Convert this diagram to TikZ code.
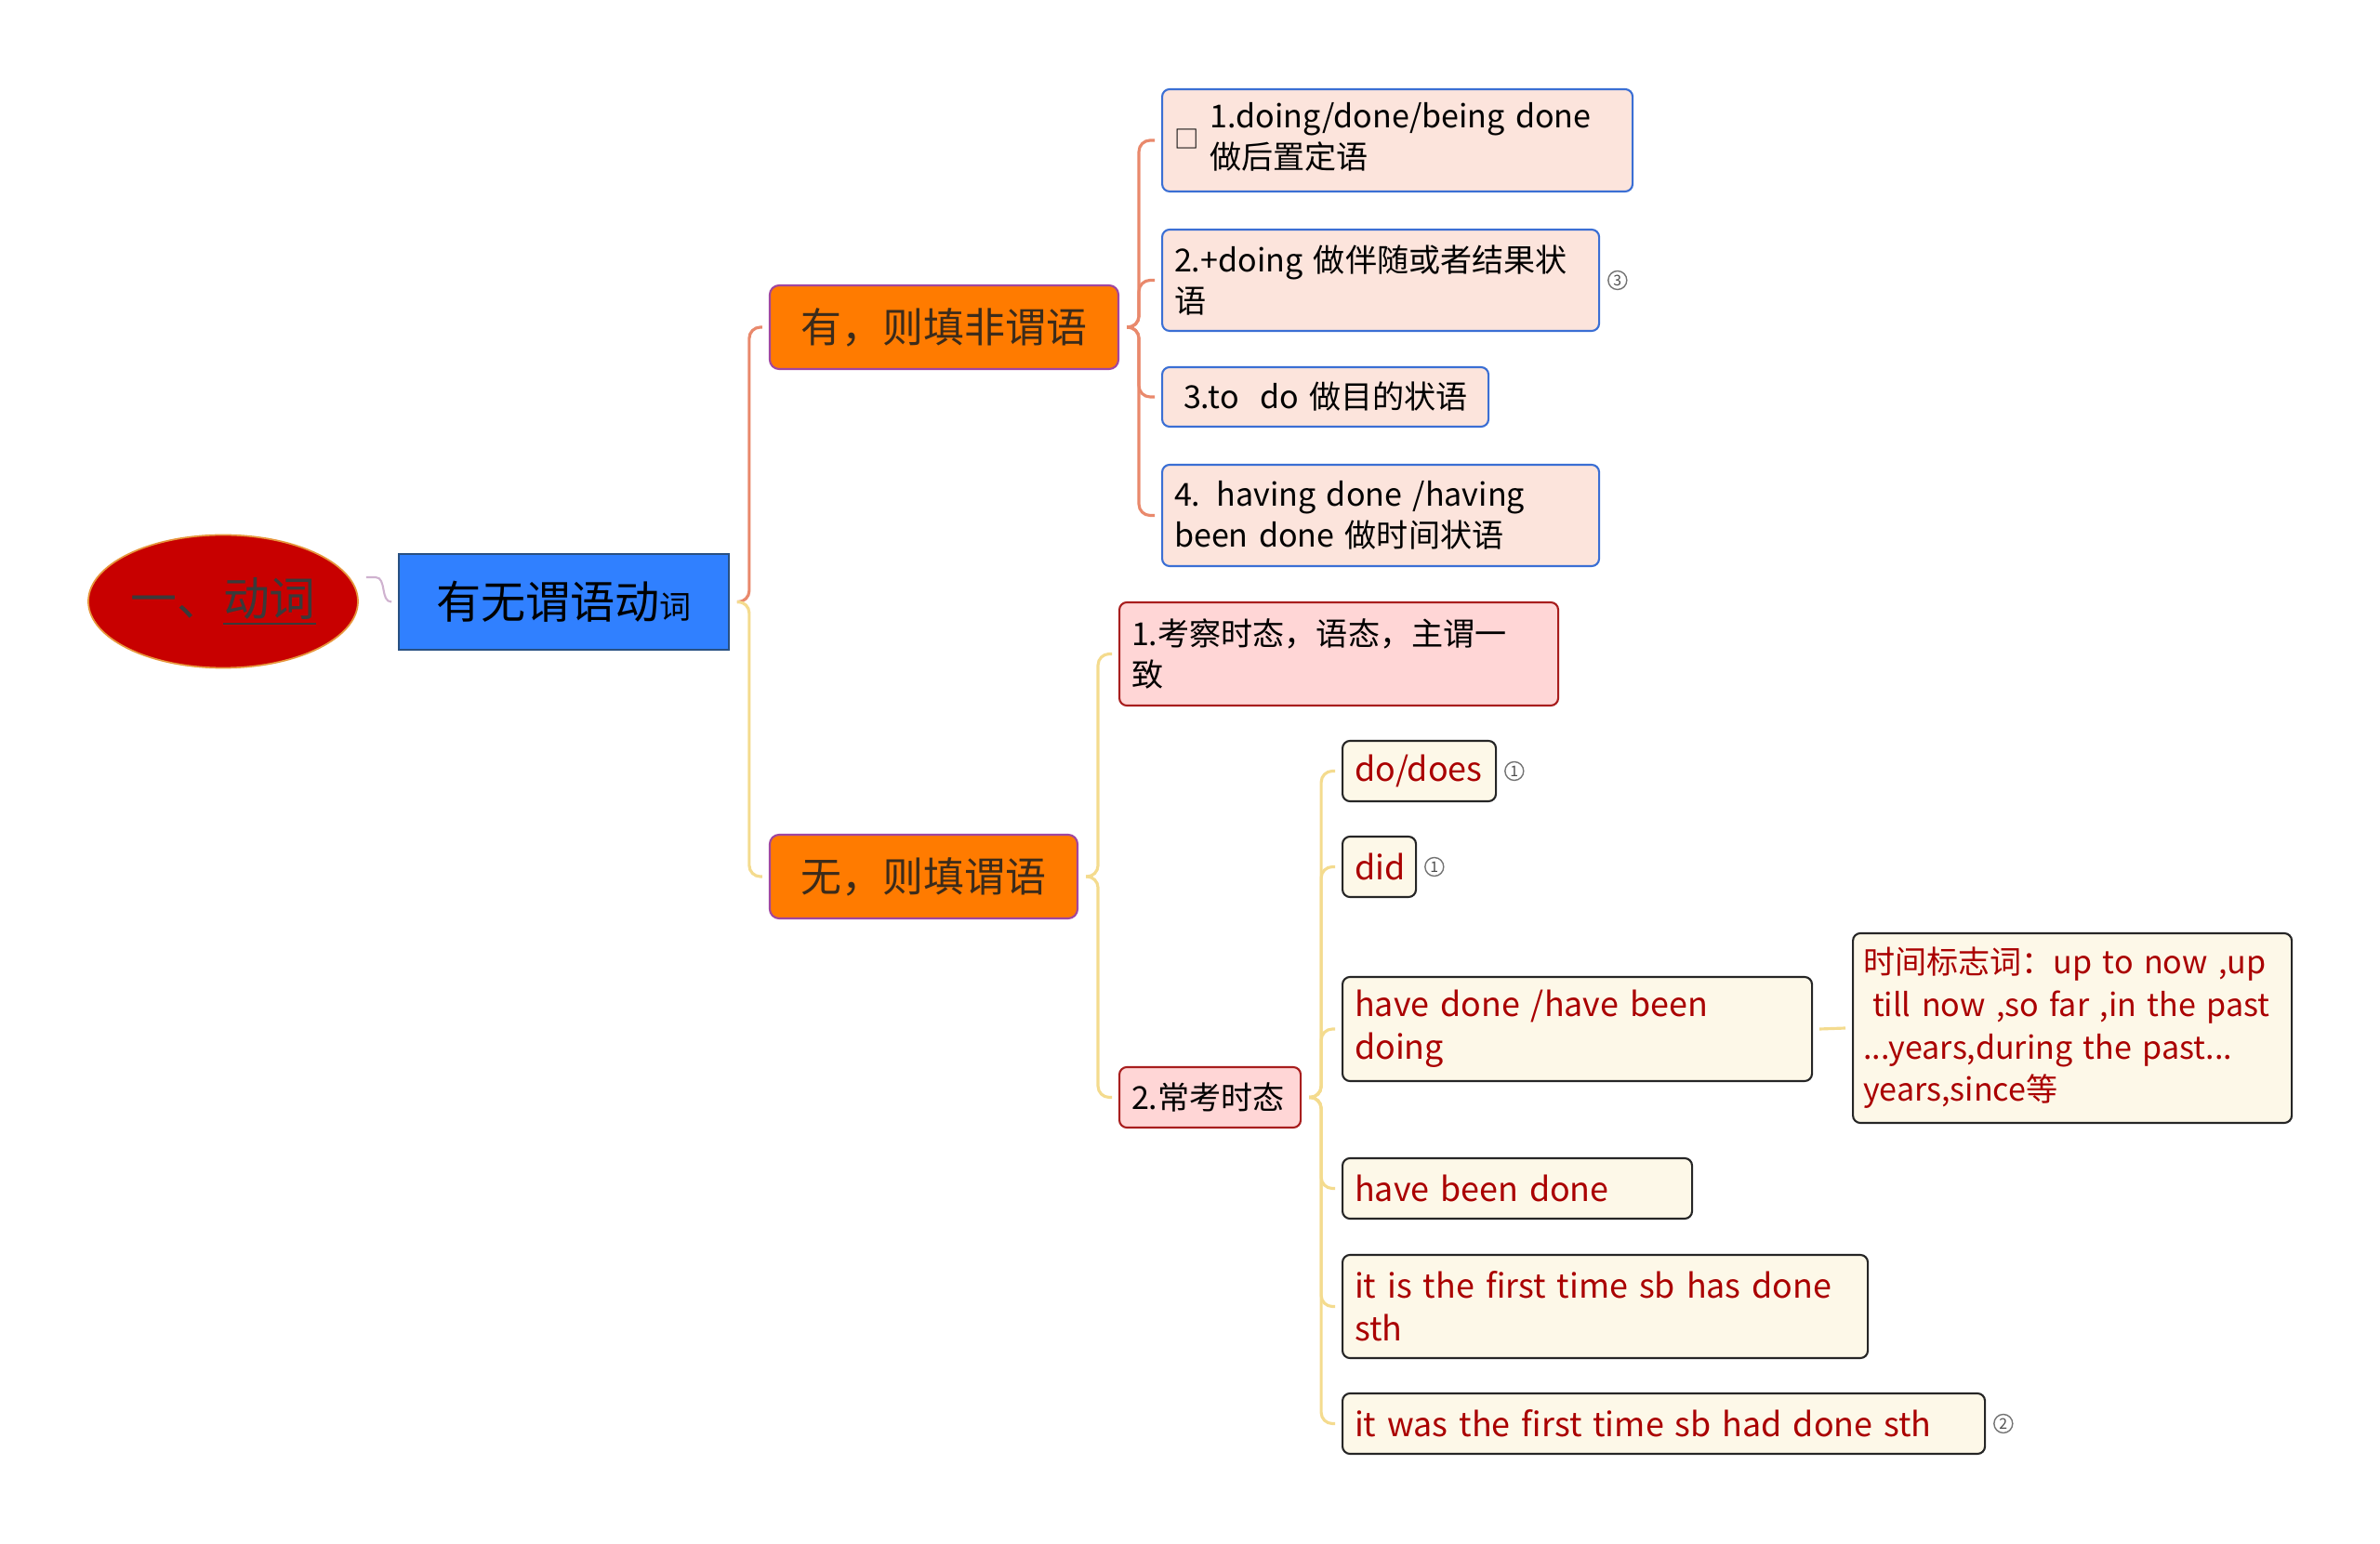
\documentclass[tikz,border=0pt]{standalone}
\usepackage{fontspec}
\setmainfont{Noto Sans CJK SC}
\usetikzlibrary{calc,positioning,shapes.geometric}
\definecolor{rootred}{HTML}{C80000}
\definecolor{rootrim}{HTML}{E6963C}
\definecolor{rootink}{HTML}{3A3A3A}
\definecolor{topicblue}{HTML}{3080FF}
\definecolor{topicrim}{HTML}{285082}
\definecolor{branchfill}{HTML}{FF7B00}
\definecolor{branchrim}{HTML}{A046A0}
\definecolor{branchink}{HTML}{3B2B1B}
\definecolor{leafpink}{HTML}{FCE4DC}
\definecolor{leafrim}{HTML}{3B6FD4}
\definecolor{rosefill}{HTML}{FFD6D6}
\definecolor{roserim}{HTML}{A81E1E}
\definecolor{creamfill}{HTML}{FDF8E8}
\definecolor{creamink}{HTML}{AA0000}
\definecolor{salmonlink}{HTML}{E9896C}
\definecolor{yellowlink}{HTML}{F4DB8E}
\def\mmlink[#1](#2)(#3){\draw[#1,line width=0.9pt,rounded corners=0.12cm] ($(#2.east)+(0.08,0)$) -- ($(#2.east)+(0.21,0)$) |- ($(#3.west)+(-0.07,0)$);}

\begin{document}
\begin{tikzpicture}[
    branch/.style={rectangle, rounded corners=0.1cm, fill=branchfill, draw=branchrim, line width=0.6pt, text=branchink, minimum height=0.9cm, font=\fontsize{12.5}{15}\selectfont},
    leaf/.style={rectangle, rounded corners=0.08cm, line width=0.6pt, anchor=west, align=left, inner xsep=0.13cm, inner ysep=0.05cm},
    blueleaf/.style={leaf, fill=leafpink, draw=leafrim, font=\fontsize{9.7}{12.5}\selectfont},
    roseleaf/.style={leaf, fill=rosefill, draw=roserim, font=\fontsize{9.7}{12.5}\selectfont},
    creamleaf/.style={leaf, fill=creamfill, draw=black!85, text=creamink, font=\fontsize{10.2}{13}\selectfont},
    badge/.style={circle, draw=black!55, line width=0.4pt, inner sep=0pt, minimum size=0.2cm, font=\fontsize{4.5}{5}\selectfont, text=black!70}
  ]
		%%%%% START %%%%%
		\useasboundingbox (0,0) rectangle (25.6,-16.61);
		
		\node[ellipse, fill=rootred, draw=rootrim, line width=0.5pt, inner sep=0pt, minimum width=2.9cm, minimum height=1.43cm, text=rootink, font=\fontsize{14.2}{17}\selectfont] (root) at (2.40,-6.47) {一、\underline{动词}};
		\node[rectangle, fill=topicblue, draw=topicrim, line width=0.5pt, minimum width=3.55cm, minimum height=1.03cm, font=\fontsize{13.7}{16}\selectfont] (topic) at (6.065,-6.475) {有无谓语动{\fontsize{9.7}{12}\selectfont 词}};
		\draw[black!25!violet!30, line width=0.6pt] ($(root.east)+(0.08,0.26)$) -- ++(0.1,0) to[out=0,in=180] ($(topic.west)+(-0.07,0)$);
		
		\node[branch, minimum width=3.75cm] (yes) at (10.155,-3.52) {有，则填非谓语};
		\node[branch, minimum width=3.31cm] (no) at (9.935,-9.43) {无，则填谓语};
		\mmlink[salmonlink](topic)(yes)
		\mmlink[yellowlink](topic)(no)
		
		% nonfinite uses
		\node[blueleaf, text width=4.80cm, minimum height=1.10cm] (h1) at (12.49,-1.51) {{\fontsize{7.5}{8}\selectfont □}\hspace{0.12cm}\begin{tabular}[c]{@{}l@{}}1.doing/done/being done\\做后置定语\end{tabular}};
		\node[blueleaf, text width=4.44cm, minimum height=1.09cm] (h2) at (12.49,-3.015) {2.+doing 做伴随或者结果状\\语};
		\node[blueleaf, text width=3.25cm, minimum height=0.64cm] (h3) at (12.49,-4.27) {\hspace*{0.1cm}3.to\ \ do 做目的状语};
		\node[blueleaf, text width=4.44cm, minimum height=1.09cm] (h4) at (12.49,-5.545) {4. having done /having\\been done 做时间状语};
		\node[badge, right=0.08cm of h2] (b3) {3};
		\foreach \k in {h1,h2,h3,h4} {\mmlink[salmonlink](yes)(\k)}
		
		% finite uses
		\node[roseleaf, text width=4.46cm, minimum height=1.11cm] (w1) at (12.03,-7.035) {1.考察时态，语态，主谓一\\致};
		\node[roseleaf, text width=1.69cm, minimum height=0.65cm] (w2) at (12.03,-11.805) {2.常考时态};
		\mmlink[yellowlink](no)(w1)
		\mmlink[yellowlink](no)(w2)
		
		\node[creamleaf, text width=1.39cm, minimum height=0.65cm] (t1) at (14.43,-8.295) {do/does};
		\node[creamleaf, text width=0.53cm, minimum height=0.65cm] (t2) at (14.43,-9.325) {did};
		\node[creamleaf, text width=4.79cm, minimum height=1.12cm] (t3) at (14.43,-11.07) {have done /have been\\doing};
		\node[creamleaf, text width=3.50cm, minimum height=0.65cm] (t4) at (14.43,-12.785) {have been done};
		\node[creamleaf, text width=5.39cm, minimum height=1.11cm] (t5) at (14.43,-14.055) {it is the first time sb has done\\sth};
		\node[creamleaf, text width=6.65cm, minimum height=0.65cm] (t6) at (14.43,-15.315) {it was the first time sb had done sth};
		\node[badge, right=0.08cm of t1] (b1) {1};
		\node[badge, right=0.08cm of t2] (b1b) {1};
		\node[badge, right=0.08cm of t6] (b2) {2};
		\foreach \k in {t1,t2,t3,t4,t5,t6} {\mmlink[yellowlink](w2)(\k)}
		
		\node[creamleaf, text width=4.50cm, inner xsep=0.11cm, minimum height=2.04cm, font=\fontsize{9.7}{13}\selectfont] (marks) at (19.92,-11.06) {\mbox{时间标志词：up to now ,up}\\\mbox{\hspace*{0.1cm}till now ,so far ,in the past}\\\mbox{...years,during the past...}\\\mbox{years,since等}};
		\draw[yellowlink, line width=0.9pt] ($(t3.east)+(0.07,0)$) -- ($(marks.west)+(-0.07,0)$);
		%%%%% END %%%%%
\end{tikzpicture}
\end{document}
